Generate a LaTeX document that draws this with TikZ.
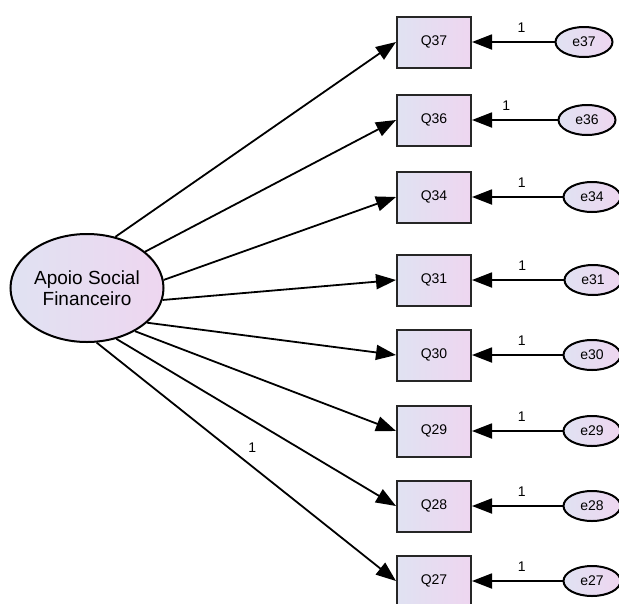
\documentclass[tikz,border=0pt]{standalone}
\usepackage{fontspec}
\setmainfont{Liberation Sans}
\usetikzlibrary{shapes.geometric,arrows.meta,positioning}
\definecolor{amosblue}{RGB}{224,226,242}
\definecolor{amospink}{RGB}{238,214,240}
\tikzset
{
    itembox/.style = {rectangle, draw=black!85, line width=2pt, minimum width=74pt, minimum height=51pt, inner sep=0pt, left color=amosblue, right color=amospink, font=\fontsize{14}{16}\selectfont},
    errnode/.style = {ellipse, draw=black, line width=2pt, minimum width=57pt, minimum height=30pt, inner sep=0pt, left color=amosblue, right color=amospink, font=\fontsize{14}{16}\selectfont},
    latent/.style  = {ellipse, draw=black, line width=2pt, minimum width=153pt, minimum height=108pt, inner sep=0pt, align=center, left color=amosblue, right color=amospink, font=\fontsize{19}{21}\selectfont},
    regline/.style = {draw=black, line width=1.8pt, -{Triangle[length=20pt,width=15pt]}},
    weight/.style  = {font=\fontsize{14}{16}\selectfont, inner sep=0pt}
}

\begin{document}
\begin{tikzpicture}[x=1pt, y=-1pt]
    \useasboundingbox (0,0) rectangle (619,603);
    % latent factor
    \node[latent] (apoio) at (87,288) {Apoio Social\\Financeiro};
    % observed items
    \node[itembox] (q37) at (434,42) {Q37};
    \node[itembox] (q36) at (434,120) {Q36};
    \node[itembox] (q34) at (434,197) {Q34};
    \node[itembox] (q31) at (434,280) {Q31};
    \node[itembox] (q30) at (434,355) {Q30};
    \node[itembox] (q29) at (434,431) {Q29};
    \node[itembox] (q28) at (434,506) {Q28};
    \node[itembox] (q27) at (434,581) {Q27};
    % error terms
    \node[errnode] (e37) at (584,42) {e37};
    \node[errnode] (e36) at (587,120) {e36};
    \node[errnode] (e34) at (592,197) {e34};
    \node[errnode] (e31) at (593,280) {e31};
    \node[errnode] (e30) at (592,355) {e30};
    \node[errnode] (e29) at (592,431) {e29};
    \node[errnode] (e28) at (592,506) {e28};
    \node[errnode] (e27) at (592,581) {e27};
    % loadings
    \draw[regline] (apoio.61) -- (q37.west);
    \draw[regline] (apoio.32) -- (q36.west);
    \draw[regline] (apoio.6) -- (q34.west);
    \draw[regline] (apoio.-9) -- (q31.west);
    \draw[regline] (apoio.-30) -- (q30.west);
    \draw[regline] (apoio.-42) -- (q29.west);
    \draw[regline] (apoio.-60) -- (q28.west);
    \draw[regline] (apoio.-80) -- node[weight, pos=0.52, above=13pt] {1} (q27.west);
    % error paths
    \draw[regline] (e37) -- node[weight, pos=0.4, above=9pt] {1} (q37);
    \draw[regline] (e36) -- node[weight, pos=0.6, above=9pt] {1} (q36);
    \draw[regline] (e34) -- node[weight, pos=0.45, above=9pt] {1} (q34);
    \draw[regline] (e31) -- node[weight, pos=0.45, above=9pt] {1} (q31);
    \draw[regline] (e30) -- node[weight, pos=0.45, above=9pt] {1} (q30);
    \draw[regline] (e29) -- node[weight, pos=0.45, above=9pt] {1} (q29);
    \draw[regline] (e28) -- node[weight, pos=0.45, above=9pt] {1} (q28);
    \draw[regline] (e27) -- node[weight, pos=0.45, above=9pt] {1} (q27);
\end{tikzpicture}
\end{document}
